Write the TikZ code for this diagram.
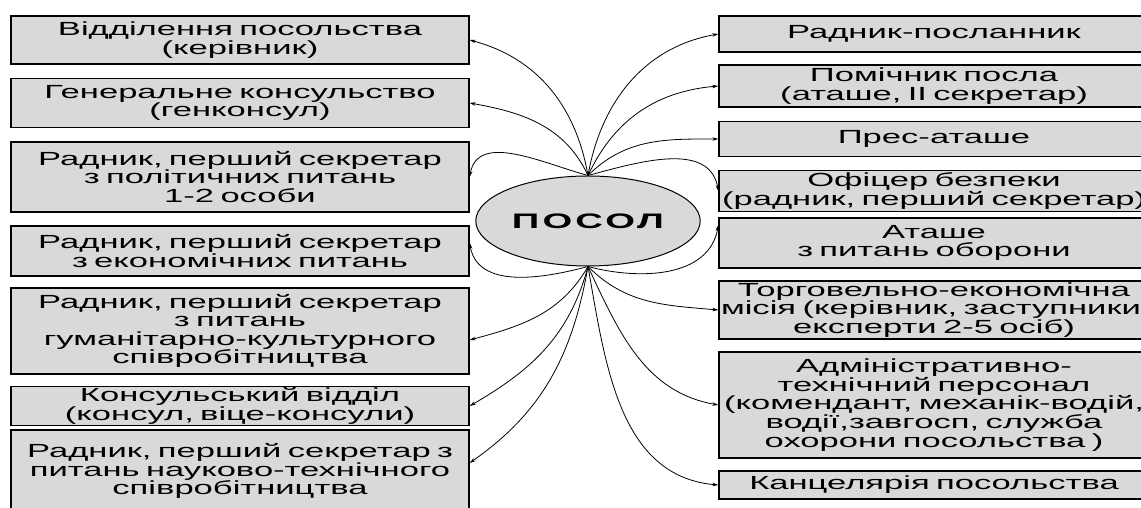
\documentclass[tikz,border=0pt]{standalone}
\usepackage{fontspec}
\setmainfont{Liberation Sans}[FakeStretch=1.82]
\usetikzlibrary{shapes.geometric}
\usetikzlibrary{arrows.meta}
\definecolor{boxgray}{RGB}{217,217,217}

\begin{document}
\begin{tikzpicture}[x=1pt,y=1pt,
    lbox/.style={draw,line width=1.3pt,fill=boxgray,text width=454pt,align=center,inner xsep=2pt,inner ysep=1pt,font=\fontsize{19}{18.6}\selectfont},
    rbox/.style={lbox,text width=426pt},
    link/.style={line width=0.8pt,-{Stealth[length=6pt,width=3.5pt]}}]
    \useasboundingbox (0,0) rectangle (1141,508);
    \node[ellipse,draw,line width=1pt,fill=boxgray,minimum width=209pt,minimum height=90pt,font=\fontsize{21}{22}\selectfont\bfseries\addfontfeature{LetterSpace=15}] (p) at (588,287) {ПОСОЛ};
    \node[lbox,minimum height=48pt] (l1) at (240,468) {Відділення посольства\\(керівник)};
    \node[lbox,minimum height=49pt] (l2) at (240,405) {Генеральне консульство\\(генконсул)};
    \node[lbox,minimum height=70pt] (l3) at (240,331) {Радник, перший секретар\\з політичних питань\\1-2 особи};
    \node[lbox,minimum height=50pt] (l4) at (240,257) {Радник, перший секретар\\з економічних питань};
    \node[lbox,minimum height=86pt] (l5) at (240,177) {Радник, перший секретар\\з питань\\гуманітарно-культурного\\співробітництва};
    \node[lbox,minimum height=38pt] (l6) at (240,102) {Консульський відділ\\(консул, віце-консули)};
    \node[lbox,minimum height=82pt] (l7) at (240,37) {Радник, перший секретар з\\питань науково-технічного\\співробітництва};
    \node[rbox,minimum height=36pt] (r1) at (934,474) {Радник-посланник};
    \node[rbox,minimum height=42pt] (r2) at (934,422) {Помічник посла\\(аташе, II секретар)};
    \node[rbox,minimum height=35pt] (r3) at (934,369) {Прес-аташе};
    \node[rbox,minimum height=41pt] (r4) at (934,317) {Офіцер безпеки\\\mbox{(радник, перший секретар)}};
    \node[rbox,minimum height=50pt] (r5) at (934,265) {Аташе\\з питань оборони};
    \node[rbox,minimum height=58pt] (r6) at (934,198) {Торговельно-економічна\\\mbox{місія (керівник, заступники,}\\експерти 2-5 осіб)};
    \node[rbox,minimum height=106pt] (r7) at (934,103) {Адміністративно-\\технічний персонал\\\mbox{(комендант, механік-водій,}\\водії,завгосп, служба\\охорони посольства )};
    \node[rbox,minimum height=28pt] (r8) at (934,23) {Канцелярія посольства};
    \draw[link] (p.north) to[out=100,in=-15] (l1.east);
    \draw[link] (p.north) to[out=115,in=-10] (l2.east);
    \draw[link] (p.north) to[out=165,in=80] (l3.east);
    \draw[link] (p.south) to[out=195,in=-80] ([yshift=8pt]l4.east);
    \draw[link] (p.south) to[out=240,in=15] ([yshift=-9pt]l5.east);
    \draw[link] (p.south) to[out=255,in=30] (l6.east);
    \draw[link] (p.south) to[out=260,in=35] ([yshift=8pt]l7.east);
    \draw[link] (p.north) to[out=80,in=190] (r1.west);
    \draw[link] (p.north) to[out=65,in=185] (r2.west);
    \draw[link] (p.north) to[out=45,in=180] (r3.west);
    \draw[link] (p.north) to[out=15,in=100] (r4.west);
    \draw[link] (p.south) to[out=-15,in=-100] ([yshift=18pt]r5.west);
    \draw[link] (p.south) to[out=-45,in=175] (r6.west);
    \draw[link] (p.south) to[out=-65,in=170] (r7.west);
    \draw[link] (p.south) to[out=-80,in=175] (r8.west);
\end{tikzpicture}
\end{document}
